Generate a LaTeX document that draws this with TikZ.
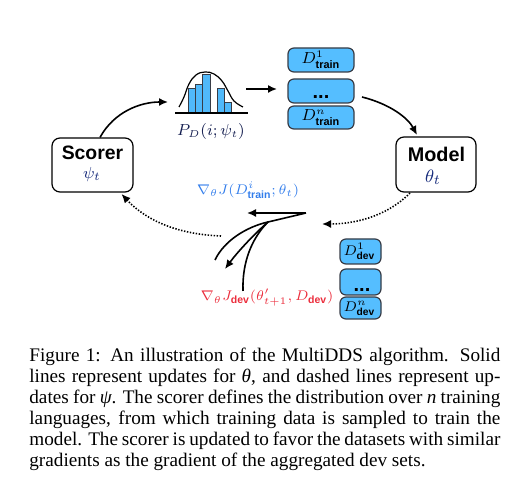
\documentclass[tikz,border=0pt]{standalone}
\usepackage{amsmath}
\usepackage{fontspec}
\setmainfont{Liberation Serif}
\setsansfont{Liberation Sans}
\usetikzlibrary{arrows.meta}
\definecolor{boxblue}{RGB}{85,190,255}
\definecolor{barblue}{RGB}{80,185,250}
\definecolor{edgegray}{RGB}{55,60,70}
\definecolor{navy}{RGB}{25,45,125}
\definecolor{darknavy}{RGB}{20,30,80}
\definecolor{gradblue}{RGB}{50,125,235}
\definecolor{gradred}{RGB}{235,45,60}
\newcommand{\sbf}[1]{\text{\sffamily\bfseries #1}}
\begin{document}
\begin{tikzpicture}[x=0.5pt,y=-0.5pt,
  actor/.style={draw=black, fill=white, rounded corners=4pt, line width=0.6pt, inner sep=0pt},
  databox/.style={draw=edgegray, fill=boxblue, rounded corners=3pt, line width=0.6pt, inner sep=0pt, minimum width=33pt},
  devbox/.style={databox, minimum width=20.5pt},
  lbl/.style={inner sep=0pt},
  flow/.style={line width=0.8pt, -{Latex[length=4.5pt,width=4pt]}},
  plain/.style={line width=0.8pt},
  fb/.style={line width=0.8pt, dash pattern=on 0.7pt off 0.8pt, -{Latex[length=4.5pt,width=4pt]}}]
\useasboundingbox (0,0) rectangle (521,491);

% actors
\node[actor, minimum width=40.5pt, minimum height=27pt] (scorer) at (92.5,165) {};
\node[lbl, anchor=base, font=\fontsize{9.7}{11}\sffamily\bfseries] (scorertxt) at (92.5,160) {Scorer};
\node[lbl, text=navy, font=\fontsize{8}{9}\selectfont] (psi) at (92,174.5) {$\psi_t$};

\node[actor, minimum width=40pt, minimum height=27.5pt] (model) at (436,164.5) {};
\node[lbl, anchor=base, font=\fontsize{9.9}{11}\sffamily\bfseries] (modeltxt) at (436.5,162) {Model};
\node[lbl, text=navy, font=\fontsize{9.5}{10}\selectfont] (theta) at (433,177) {$\theta_t$};

% histogram
\foreach \xa/\xb/\yt in {188/195/89, 195/202.3/85, 202.3/210/75, 217.3/224/89, 224/231/103}
  \fill[barblue] (\xa,113) rectangle (\xb,\yt);
\foreach \xa/\xb/\yt in {188/195/89, 195/202.3/85, 202.3/210/75, 217.3/224/89, 224/231/103}
  \draw[edgegray, line width=0.5pt] (\xa,113) rectangle (\xb,\yt);
\draw[line width=0.6pt] plot[smooth, tension=0.7] coordinates {(179,107) (184,97) (189,84) (196,75) (205,72) (214,74) (222,81) (228,91) (234,101) (243,107)};
\draw[line width=0.7pt] (175,113) -- (248,113);
\node[lbl, text=darknavy, font=\fontsize{7.8}{9}\selectfont] (pd) at (211,132) {$P_D(i;\psi_t)$};

% training data stack
\node[databox, minimum height=12pt] (tr1) at (321,60) {};
\node[databox, minimum height=12pt] (tr2) at (321,91) {};
\node[databox, minimum height=11.5pt] (tr3) at (321,117.5) {};
\node[lbl, font=\fontsize{7.8}{9}\selectfont] (tr1txt) at (321,60) {$D^{1}_{\sbf{train}}$};
\node[lbl, anchor=base, font=\fontsize{10}{11}\sffamily\bfseries] (tr2txt) at (321,99) {...};
\node[lbl, font=\fontsize{7.8}{9}\selectfont] (tr3txt) at (321,117.5) {$D^{n}_{\sbf{train}}$};

% dev data stack
\node[devbox, minimum height=12.5pt] (dv1) at (360.5,251.5) {};
\node[devbox, minimum height=13pt] (dv2) at (360.5,282) {};
\node[devbox, minimum height=11pt] (dv3) at (360.5,308) {};
\node[lbl, font=\fontsize{7.3}{9}\selectfont] (dv1txt) at (359.5,251.5) {$D^{1}_{\sbf{dev}}$};
\node[lbl, anchor=base, font=\fontsize{10}{11}\sffamily\bfseries] (dv2txt) at (362,292) {...};
\node[lbl, font=\fontsize{7.3}{9}\selectfont] (dv3txt) at (359.5,308.5) {$D^{n}_{\sbf{dev}}$};

% gradient labels
\node[lbl, text=gradblue, font=\fontsize{7.5}{9}\selectfont] (gtrain) at (248,190) {$\nabla_{\theta}J(D^{i}_{\sbf{train}};\theta_t)$};
\node[lbl, text=gradred, font=\fontsize{7.5}{9}\selectfont] (gdev) at (267,298) {$\nabla_{\theta}J_{\sbf{dev}}(\theta'_{t+1},D_{\sbf{dev}})$};

% connector end points
\coordinate (h0) at (246,89);
\coordinate (h1) at (277,89);
\coordinate (hs) at (168,102);
\coordinate (t0) at (362,97);
\coordinate (mt) at (417,135);
\coordinate (m0) at (410,193);
\coordinate (m1) at (322,224);
\coordinate (s0) at (221,236);
\coordinate (st) at (121.5,194);
\coordinate (g0) at (306,213);
\coordinate (gt) at (247,213);
\coordinate (g1) at (268,222);
\coordinate (ga) at (215,260);
\coordinate (gb) at (225,269);
\coordinate (gc) at (243,291);

% solid updates
\draw[flow] ([xshift=3.75pt]scorer.north) .. controls (114,112) and (140,102) .. (hs);
\draw[flow] (h0) -- (h1);
\draw[flow] (t0) .. controls (390,104) and (408,118) .. (mt);

% dotted updates
\draw[fb] (m0) .. controls (385,218) and (352,224) .. (m1);
\draw[fb] (s0) .. controls (168,234) and (140,214) .. (st);

% gradient vectors
\draw[flow] (g0) -- (gt);
\draw[plain] (g0) -- (g1);
\draw[plain] (g1) .. controls (246,227) and (224,241) .. (ga);
\draw[flow] (g1) .. controls (252,236) and (236,254) .. (gb);
\draw[plain] (g1) .. controls (252,238) and (242,262) .. (gc);

% caption
\node[lbl, anchor=base west, text width=235.5pt, align=justify, font=\fontsize{9.6}{10.5}\selectfont] (caption) at (29,361.7)
{\spaceskip=0.25em plus 0.3em minus 0.11em\hyphenpenalty=10000\tolerance=9999\emergencystretch=2em
Figure 1: An illustration of the MultiDDS algorithm. Solid\linebreak
lines represent updates for \textit{θ}, and dashed lines represent up-\linebreak
dates for \textit{ψ}. The scorer defines the distribution over \textit{n} training\linebreak
languages, from which training data is sampled to train the\linebreak
model. The scorer is updated to favor the datasets with similar\linebreak
gradients as the gradient of the aggregated dev sets.};
\end{tikzpicture}
\end{document}
